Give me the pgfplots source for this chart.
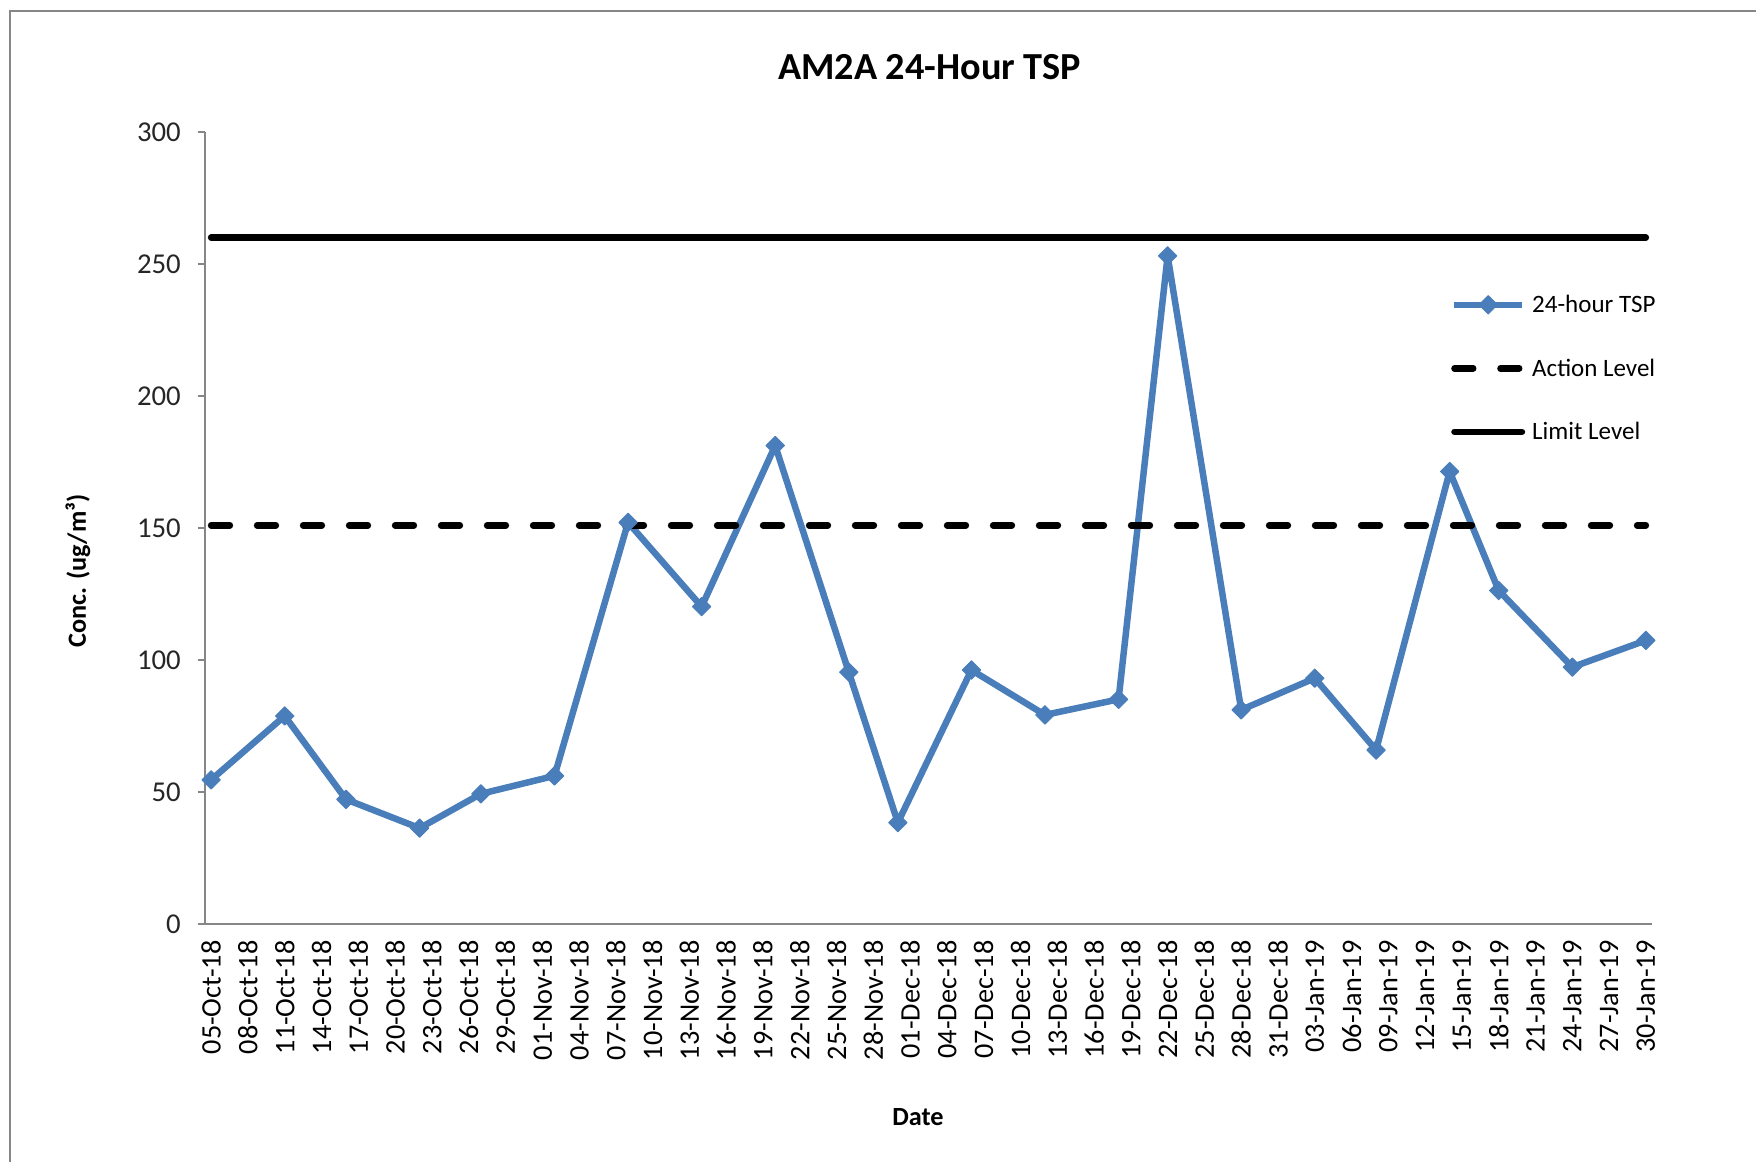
\documentclass[border=0pt]{standalone}
\usepackage{fontspec}
\setmainfont{Carlito}
\usepackage{pgfplots}
\pgfplotsset{compat=1.18}
\definecolor{tspblue}{RGB}{74,126,187}
\definecolor{axgray}{RGB}{134,134,134}
\begin{document}
\begin{tikzpicture}
\useasboundingbox (-82pt,-95.2pt) rectangle (620.4pt,369.6pt);
\draw[axgray, line width=0.7pt] (-78pt,-96pt) -- (-78pt,365.2pt) -- (621pt,365.2pt);
\begin{axis}[
  at={(0pt,0pt)}, anchor=south west,
  width=578.8pt, height=316.8pt, scale only axis,
  xmin=-0.5, xmax=117.5, ymin=0, ymax=300,
  clip=false,
  axis x line*=bottom, axis y line*=left,
  axis line style={axgray, line width=0.75pt, -},
  xtick={0,3,...,117},
  xticklabels={05-Oct-18,08-Oct-18,11-Oct-18,14-Oct-18,17-Oct-18,20-Oct-18,23-Oct-18,26-Oct-18,29-Oct-18,01-Nov-18,04-Nov-18,07-Nov-18,10-Nov-18,13-Nov-18,16-Nov-18,19-Nov-18,22-Nov-18,25-Nov-18,28-Nov-18,01-Dec-18,04-Dec-18,07-Dec-18,10-Dec-18,13-Dec-18,16-Dec-18,19-Dec-18,22-Dec-18,25-Dec-18,28-Dec-18,31-Dec-18,03-Jan-19,06-Jan-19,09-Jan-19,12-Jan-19,15-Jan-19,18-Jan-19,21-Jan-19,24-Jan-19,27-Jan-19,30-Jan-19},
  xtick style={draw=none},
  ytick={0,50,...,300},
  ytick style={axgray, line width=0.75pt},
  tick align=outside, major tick length=2.8pt,
  /pgf/number format/assume math mode=true,
  yticklabel style={anchor=east, inner sep=0pt, xshift=-6.7pt, font=\fontsize{11.5}{13}\selectfont, text=black!85},
  xticklabel style={rotate=90, anchor=east, inner sep=0pt, xshift=-3.6pt, font=\fontsize{11.3}{13}\selectfont, text=black},
  title={AM2A 24-Hour TSP},
  title style={at={(axis description cs:0.5007,1.0624)}, anchor=center, inner sep=0pt, font=\fontsize{15.3}{18}\selectfont\bfseries},
  ylabel={Conc. (ug/m³)},
  ylabel style={at={(axis description cs:-0.0878,0.4457)}, anchor=center, rotate=0, inner sep=0pt, font=\fontsize{10.5}{12}\selectfont\bfseries},
  xlabel={Date},
  xlabel style={at={(axis description cs:0.4927,-0.2437)}, anchor=center, inner sep=0pt, font=\fontsize{10.5}{12}\selectfont\bfseries},
  legend cell align=left,
  legend image code/.code={\draw[mark repeat=2,mark phase=2,#1] plot coordinates {(0pt,0.7pt) (13.5pt,0.7pt) (27pt,0.7pt)};},
  legend style={draw=none, fill=none, at={(axis description cs:0.8609,0.7944)}, anchor=north west, inner sep=0pt, row sep=16.4pt, column sep=2.8pt, font=\fontsize{10}{12}\selectfont, nodes={inner sep=0pt, text height=7pt, text depth=2pt}},
]
\addplot[tspblue, line width=2.6pt, line join=round, mark=square*, mark size=2.6pt, mark options={rotate=45, solid, fill=tspblue, draw=tspblue, line width=0.4pt}] coordinates {
(0,54.6) (6,78.8) (11,47.2) (17,36.3) (22,49.3) (28,56.1) (34,152.1) (40,120.2) (46,181.2) (52,95.4) (56,38.4) (62,96.2) (68,79.2) (74,85.1) (78,253.1) (84,81.1) (90,93.1) (95,65.9) (101,171.4) (105,126.3) (111,97.3) (117,107.4)
};
\addlegendentry{24-hour TSP}
\addplot[black, line width=2.6pt, line cap=round, dash pattern=on 7.5pt off 10.9pt] coordinates {(0,151) (117,151)};
\addlegendentry{Action Level}
\addplot[black, line width=2.6pt, line cap=round] coordinates {(0,260) (117,260)};
\addlegendentry{Limit Level}
\end{axis}
\end{tikzpicture}
\end{document}
